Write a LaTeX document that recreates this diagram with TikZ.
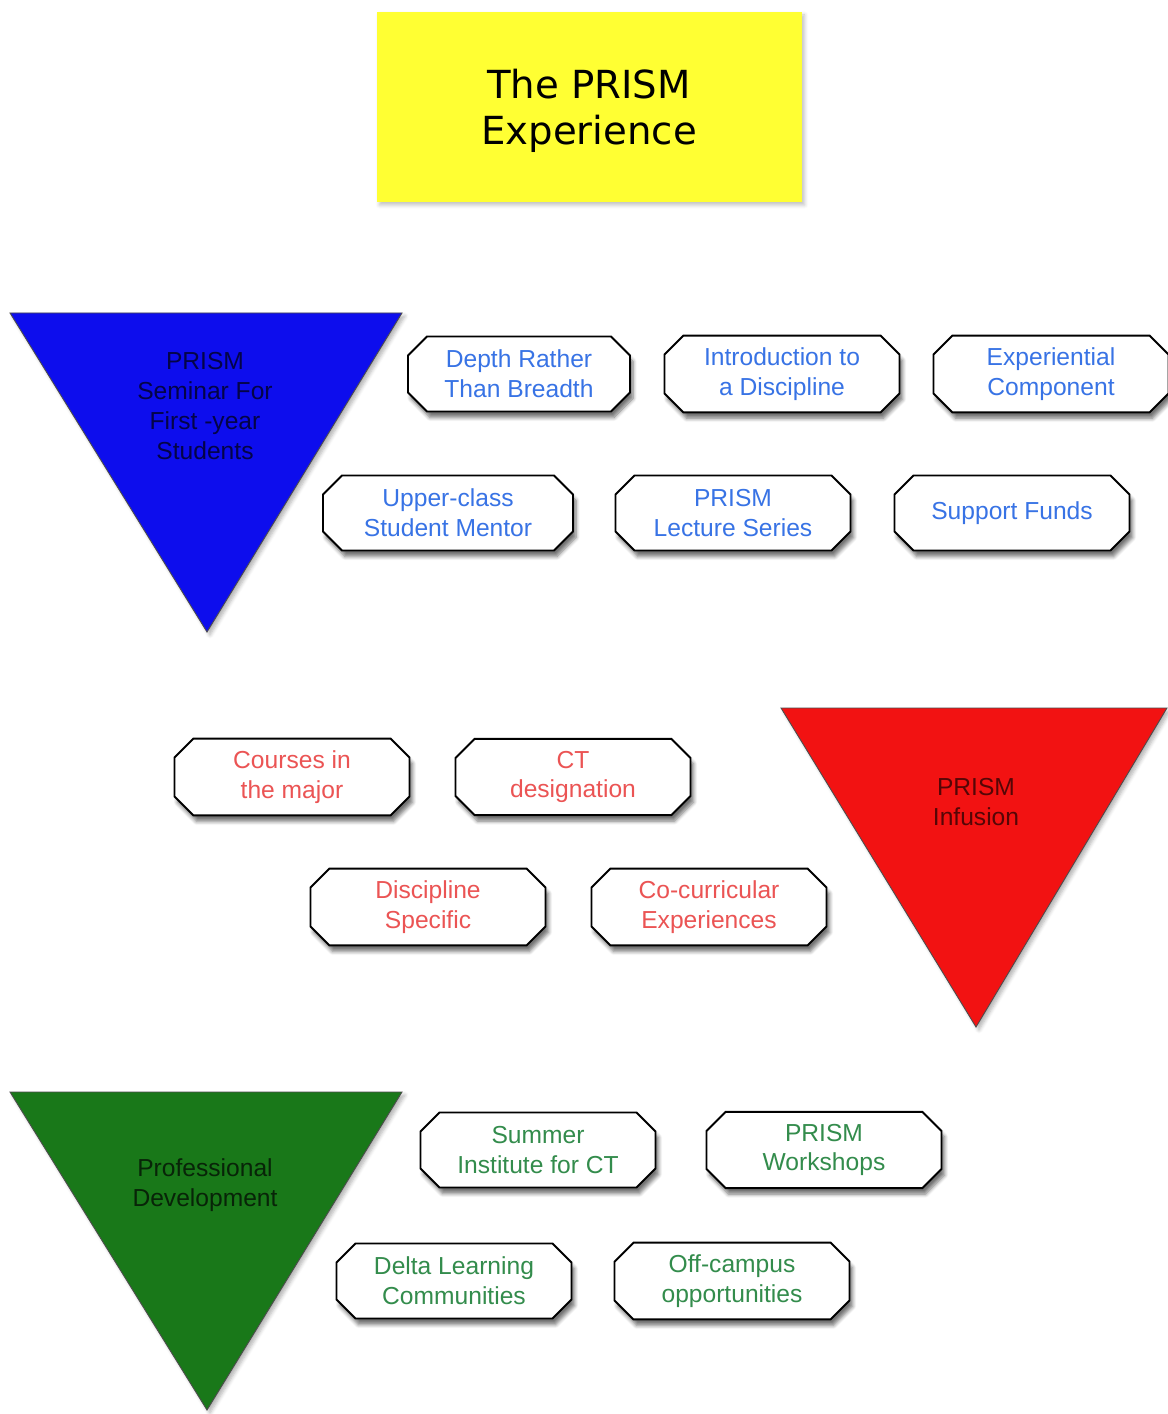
\documentclass[tikz,border=0pt]{standalone}
\usepackage{fontspec}
\setmainfont{Liberation Sans}
\newfontfamily\titlefont{DejaVu Sans}
\usetikzlibrary{shapes.misc,shadows.blur}
\definecolor{TitleClr}{rgb}{1,1,0.2}
\definecolor{SeminarClr}{rgb}{0.05,0.05,0.93}
\definecolor{SeminarTxt}{rgb}{0.22,0.45,0.9}
\definecolor{InfusionClr}{rgb}{0.95,0.07,0.07}
\definecolor{InfusionTxt}{rgb}{0.92,0.33,0.33}
\definecolor{ProfClr}{rgb}{0.1,0.47,0.1}
\definecolor{ProfTxt}{rgb}{0.2,0.55,0.3}

\begin{document}
\begin{tikzpicture}[x=0.2mm,y=-0.2mm,
  item/.style={chamfered rectangle,chamfered rectangle xsep=1.9mm,
    chamfered rectangle ysep=1.9mm,inner sep=0.5mm,draw=black,
    line width=1.1pt,fill=white,minimum width=47mm,minimum height=15mm,
    align=center,font=\fontsize{14}{17}\selectfont,
    blur shadow={shadow xshift=0.6mm,shadow yshift=-1.2mm,
      shadow blur steps=6,shadow opacity=55}},
  wedge/.style={draw=black!70,line width=0.5pt,
    blur shadow={shadow xshift=0.6mm,shadow yshift=-0.6mm,
      shadow blur steps=5,shadow opacity=30}},
  wedgetext/.style={align=center,font=\fontsize{14}{17}\selectfont}]
\useasboundingbox (0,0) rectangle (1167,1414);

\node[fill=TitleClr,minimum width=85mm,minimum height=38mm,align=center,
  font=\titlefont\fontsize{22}{26}\selectfont,
  blur shadow={shadow xshift=0.6mm,shadow yshift=-0.6mm,shadow opacity=25}]
  (title) at (589,107) {\rule{0pt}{7.5mm}The PRISM\\Experience};

\coordinate (S1) at (10,313);
\coordinate (S2) at (402,313);
\coordinate (S3) at (207,632);
\filldraw[wedge,fill=SeminarClr] (S1) -- (S2) -- (S3) -- cycle;
\node[wedgetext,text=SeminarClr!30!black] (seminar) at (205,406)
  {PRISM\\Seminar For\\First -year\\Students};

\node[item,text=SeminarTxt,minimum width=44.4mm] (depth) at (519,374) {Depth Rather\\Than Breadth};
\node[item,text=SeminarTxt] (intro) at (782,374) {Introduction to\\a Discipline};
\node[item,text=SeminarTxt] (exper) at (1051,374) {Experiential\\Component};
\node[item,text=SeminarTxt,minimum width=50mm] (mentor) at (448,513) {Upper-class\\Student Mentor};
\node[item,text=SeminarTxt] (lecture) at (733,513) {PRISM\\Lecture Series};
\node[item,text=SeminarTxt] (funds) at (1012,513) {Support Funds};

\coordinate (I1) at (781,708);
\coordinate (I2) at (1167,708);
\coordinate (I3) at (976,1027);
\filldraw[wedge,fill=InfusionClr] (I1) -- (I2) -- (I3) -- cycle;
\node[wedgetext,text=InfusionClr!35!black] (infusion) at (976,802)
  {PRISM\\Infusion};

\node[item,text=InfusionTxt] (courses) at (292,777) {Courses in\\the major};
\node[item,text=InfusionTxt] (ctdes) at (573,777) {CT\\designation};
\node[item,text=InfusionTxt] (discip) at (428,907) {Discipline\\Specific};
\node[item,text=InfusionTxt] (cocurr) at (709,907) {Co-curricular\\Experiences};

\coordinate (P1) at (10,1092);
\coordinate (P2) at (402,1092);
\coordinate (P3) at (207,1410);
\filldraw[wedge,fill=ProfClr] (P1) -- (P2) -- (P3) -- cycle;
\node[wedgetext,text=ProfClr!30!black] (profdev) at (205,1185)
  {Professional\\Development};

\node[item,text=ProfTxt] (summer) at (538,1150) {Summer\\Institute for CT};
\node[item,text=ProfTxt] (workshops) at (824,1150) {PRISM\\Workshops};
\node[item,text=ProfTxt] (delta) at (454,1281) {Delta Learning\\Communities};
\node[item,text=ProfTxt] (offcampus) at (732,1281) {Off-campus\\opportunities};

\end{tikzpicture}
\end{document}
